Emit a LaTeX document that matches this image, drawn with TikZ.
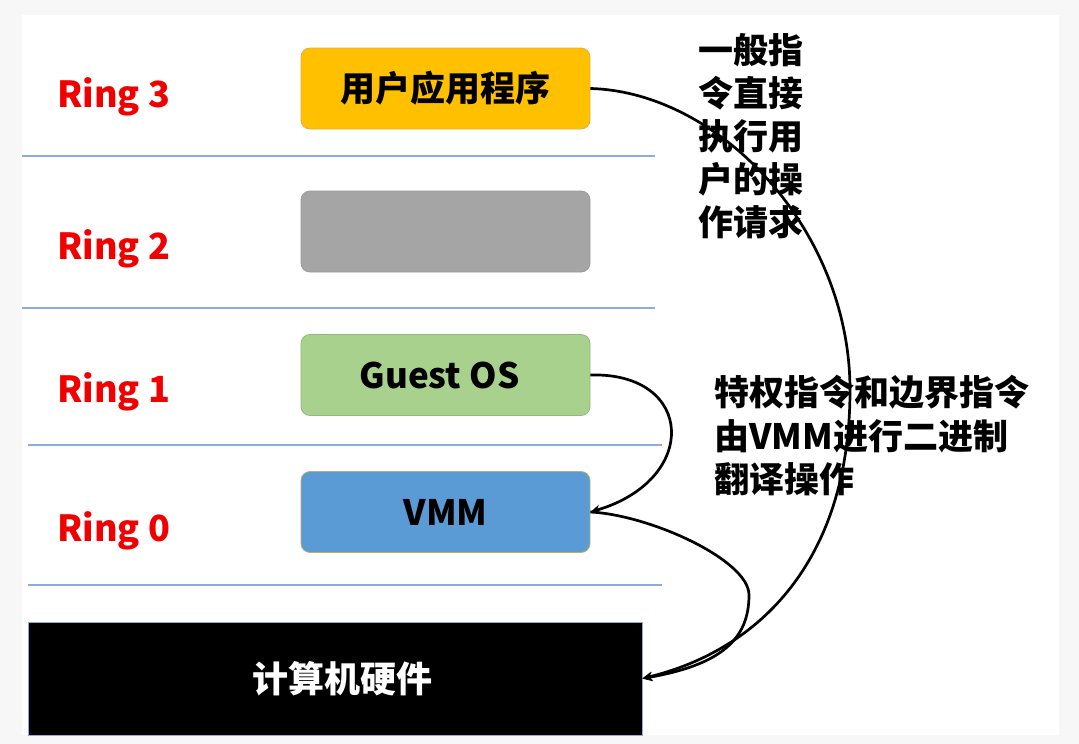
\documentclass[tikz,border=0pt]{standalone}
\usepackage{fontspec}
\setmainfont{Noto Sans CJK SC}
\usetikzlibrary{arrows.meta}
\definecolor{pagebg}{HTML}{F7F7F7}
\definecolor{ringred}{HTML}{F00000}
\definecolor{sepblue}{HTML}{8FAADC}
\definecolor{appyellow}{HTML}{FFC000}
\definecolor{appyellowd}{HTML}{E0B040}
\definecolor{graybox}{HTML}{A5A5A5}
\definecolor{grayboxd}{HTML}{9A9A9A}
\definecolor{guestgreen}{HTML}{A9D18E}
\definecolor{guestgreend}{HTML}{92B87A}
\definecolor{vmmblue}{HTML}{5B9BD5}
\definecolor{vmmblued}{HTML}{B8B070}
\begin{document}
\begin{tikzpicture}[x=1pt,y=-1pt,
  ringlabel/.style={anchor=west,text=ringred,inner sep=0pt,font=\fontsize{36}{40}\selectfont\bfseries},
  layerbox/.style={rectangle,rounded corners=9pt,minimum width=289pt,minimum height=81pt,line width=0.8pt,inner sep=0pt,font=\fontsize{35}{40}\selectfont\bfseries},
  hwbox/.style={rectangle,fill=black,draw=sepblue,line width=0.6pt,minimum width=614pt,minimum height=113pt,text=white,font=\fontsize{36}{40}\selectfont\bfseries},
  sepline/.style={draw=sepblue,line width=1.3pt},
  note/.style={align=left,inner sep=0pt,anchor=north west},
  conn/.style={draw=black,line width=2.7pt,-{Stealth[length=10pt,width=9pt]}}]
\fill[pagebg] (0,0) rectangle (1079,744);
\fill[white] (22,15) rectangle (1059,735);
\useasboundingbox (0,0) rectangle (1079,744);
% separators
\draw[sepline] (22,156) -- (655,156);
\draw[sepline] (22,308) -- (655,308);
\draw[sepline] (28,445) -- (662,445);
\draw[sepline] (28,585) -- (662,585);
% ring labels
\node[ringlabel] (r3) at (57,97) {Ring 3};
\node[ringlabel] (r2l) at (57,249) {Ring 2};
\node[ringlabel] (r1) at (57,392) {Ring 1};
\node[ringlabel] (r0) at (57,531) {Ring 0};
% layer boxes
\node[layerbox,fill=appyellow,draw=appyellowd] (app) at (445.5,88.5) {用户应用程序};
\node[layerbox,fill=graybox,draw=grayboxd] (ring2) at (445.5,231.5) {};
\node[layerbox,fill=guestgreen,draw=guestgreend] (guest) at (445.5,375) {\hspace*{-12pt}Guest OS};
\node[layerbox,fill=vmmblue,draw=vmmblued] (vmm) at (445.5,512) {VMM};
\node[hwbox] (hw) at (335,678.5) {\hspace*{14pt}计算机硬件};
% notes
\node[note,font=\fontsize{35}{43}\selectfont\bfseries] (n1) at (698,33) {一般指\\令直接\\执行用\\户的操\\作请求};
\node[note,font=\fontsize{35}{43.5}\selectfont\bfseries] (n2) at (714,375) {特权指令和边界指令\\由VMM进行二进制\\翻译操作};
% connectors
\coordinate (bendA) at (850,390);
\coordinate (bendB) at (749,595);
\draw[conn] (app.east) .. controls (720,92) and (850,230) .. (bendA) .. controls (850,560) and (760,650) .. (hw.east);
\draw[conn] (guest.east) .. controls (695,372) and (700,480) .. (vmm.east);
\draw[conn] (vmm.east) .. controls (650,515) and (749,560) .. (bendB) .. controls (749,640) and (720,665) .. (hw.east);
\end{tikzpicture}
\end{document}
